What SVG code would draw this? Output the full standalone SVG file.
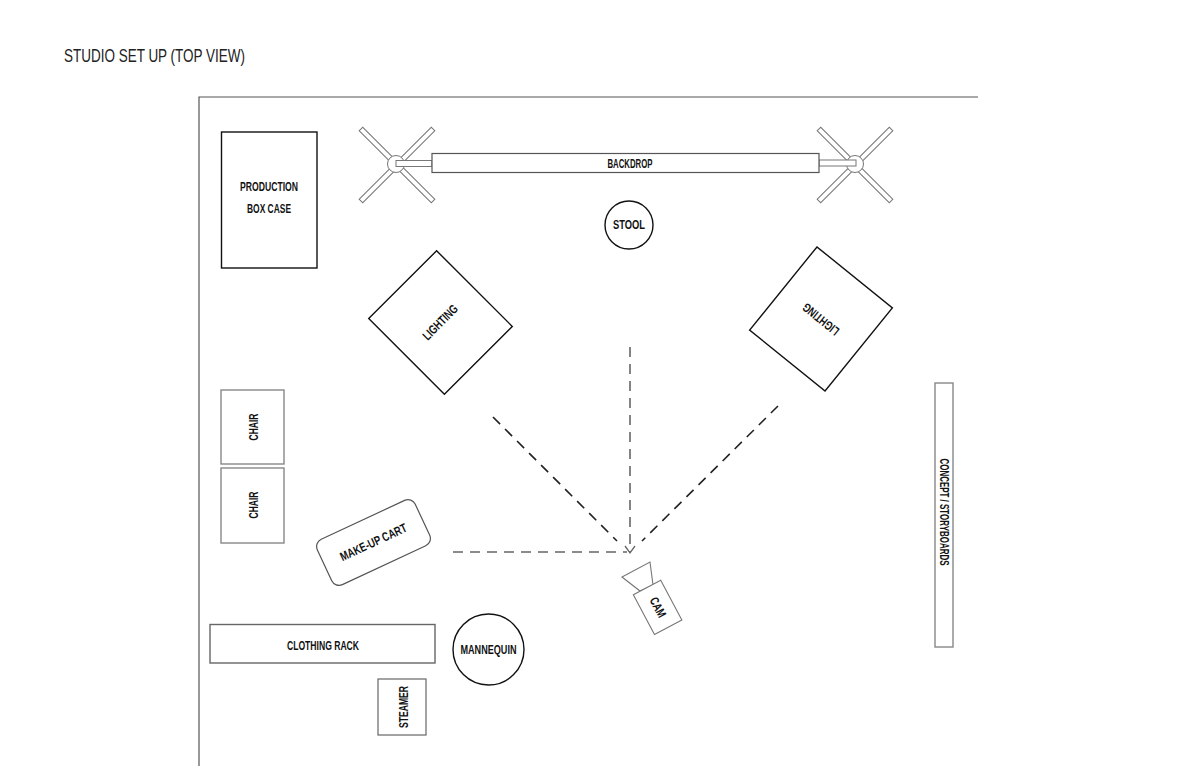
<svg xmlns="http://www.w3.org/2000/svg" width="1200" height="777" viewBox="0 0 1200 777">
<style>
.lbl{font-family:"Liberation Sans",Arial,sans-serif;font-weight:bold;font-size:12.5px;fill:#111;text-anchor:middle;dominant-baseline:central}
.title{font-family:"Liberation Sans",Arial,sans-serif;font-size:18px;fill:#222}
.blk{fill:#fff;stroke:#111;stroke-width:1.4}
.gry{fill:#fff;stroke:#888;stroke-width:1.4}
.leg{fill:#fff;stroke:#777;stroke-width:1}
.dash{fill:none;stroke-width:1.6;stroke-dasharray:10 7}
</style>
<rect width="1200" height="777" fill="#fff"/>
<text class="title" x="64" y="62" textLength="181" lengthAdjust="spacingAndGlyphs">STUDIO SET UP (TOP VIEW)</text>
<g id="room" fill="none" stroke="#555" stroke-width="1.2">
<polyline points="199,766 199,97 978,97"/>
</g>
<g id="production-box">
<rect class="blk" x="221.5" y="132" width="95.5" height="136"/>
<text class="lbl" x="269" y="187" textLength="58" lengthAdjust="spacingAndGlyphs">PRODUCTION</text>
<text class="lbl" x="269" y="209" textLength="44" lengthAdjust="spacingAndGlyphs">BOX CASE</text>
</g>
<g id="stand-left">
<rect class="leg" x="-51" y="-2.5" width="102" height="5" transform="translate(397,165) rotate(45)"/>
<rect class="leg" x="-51" y="-2.5" width="102" height="5" transform="translate(397,165) rotate(-45)"/>
<circle class="leg" cx="396" cy="164" r="8.5"/>
<rect class="leg" x="396" y="160.5" width="36" height="6"/>
</g>
<g id="stand-right">
<rect class="leg" x="-51" y="-2.5" width="102" height="5" transform="translate(855,165) rotate(45)"/>
<rect class="leg" x="-51" y="-2.5" width="102" height="5" transform="translate(855,165) rotate(-45)"/>
<circle class="leg" cx="855" cy="164" r="8.5"/>
<rect class="leg" x="819" y="160" width="37" height="6"/>
</g>
<g id="backdrop">
<rect x="432" y="153.5" width="387" height="19" fill="#fff" stroke="#555" stroke-width="1.2"/>
<text class="lbl" x="630" y="163.5" font-size="11" textLength="45" lengthAdjust="spacingAndGlyphs">BACKDROP</text>
</g>
<g id="stool">
<circle class="blk" cx="629" cy="225" r="24"/>
<text class="lbl" x="629" y="225" textLength="32" lengthAdjust="spacingAndGlyphs">STOOL</text>
</g>
<g id="lighting-left" transform="translate(440.5,322.5) rotate(45)">
<rect class="blk" x="-53.5" y="-48" width="107" height="96" stroke-width="1.3"/>
<text class="lbl" x="0" y="0" transform="rotate(-90)" textLength="44" lengthAdjust="spacingAndGlyphs">LIGHTING</text>
</g>
<g id="lighting-right" transform="translate(821,319) rotate(39)">
<rect class="blk" x="-48.5" y="-53.5" width="97" height="107" stroke-width="1.3"/>
<text class="lbl" x="0" y="0" transform="rotate(180)" textLength="43" lengthAdjust="spacingAndGlyphs">LIGHTING</text>
</g>
<g id="chair-1">
<rect class="gry" x="221" y="390" width="63" height="74"/>
<text class="lbl" x="0" y="0" transform="translate(254,427) rotate(-90)" textLength="27" lengthAdjust="spacingAndGlyphs">CHAIR</text>
</g>
<g id="chair-2">
<rect class="gry" x="221" y="468" width="63" height="75"/>
<text class="lbl" x="0" y="0" transform="translate(254,505) rotate(-90)" textLength="27" lengthAdjust="spacingAndGlyphs">CHAIR</text>
</g>
<g id="makeup-cart" transform="translate(373.5,542.5) rotate(-25)">
<rect x="-54" y="-25" width="108" height="50" rx="8" fill="#fff" stroke="#555" stroke-width="1.2"/>
<text class="lbl" x="0" y="0" textLength="72" lengthAdjust="spacingAndGlyphs">MAKE-UP CART</text>
</g>
<g id="clothing-rack">
<rect x="210" y="624.5" width="225" height="38.5" fill="#fff" stroke="#666" stroke-width="1.4"/>
<text class="lbl" x="323" y="646" textLength="72" lengthAdjust="spacingAndGlyphs">CLOTHING RACK</text>
</g>
<g id="mannequin">
<circle class="blk" cx="488.5" cy="649.5" r="35.5"/>
<text class="lbl" x="488.5" y="649.5" textLength="56" lengthAdjust="spacingAndGlyphs">MANNEQUIN</text>
</g>
<g id="steamer">
<rect x="378" y="679" width="48" height="56" fill="#fff" stroke="#666" stroke-width="1.2"/>
<text class="lbl" x="0" y="0" transform="translate(404,707) rotate(-90)" textLength="42" lengthAdjust="spacingAndGlyphs">STEAMER</text>
</g>
<g id="concept-boards">
<rect class="gry" x="935" y="383" width="18" height="264"/>
<text class="lbl" x="0" y="0" transform="translate(944,512) rotate(90)" textLength="107" lengthAdjust="spacingAndGlyphs">CONCEPT / STORYBOARDS</text>
</g>
<g id="camera">
<polygon points="622,577 650,562 653,585 640,591" fill="#fff" stroke="#777" stroke-width="1.1"/>
<g transform="translate(657.6,607.4) rotate(-28)">
<rect x="-15.5" y="-22.5" width="31" height="45" fill="#fff" stroke="#777" stroke-width="1.1"/>
<text class="lbl" x="0" y="0" font-size="11" transform="rotate(90)" textLength="21" lengthAdjust="spacingAndGlyphs">CAM</text>
</g>
</g>
<g id="connectors">
<line class="dash" x1="630" y1="347" x2="630" y2="552" stroke="#666"/>
<line class="dash" x1="493" y1="417" x2="617" y2="541" stroke="#222"/>
<line class="dash" x1="778" y1="406" x2="642" y2="541" stroke="#222"/>
<line class="dash" x1="453" y1="552" x2="627" y2="552" stroke="#666"/>
<polyline points="625,546 630,553 635,546" fill="none" stroke="#666" stroke-width="1.3"/>
</g>
</svg>
